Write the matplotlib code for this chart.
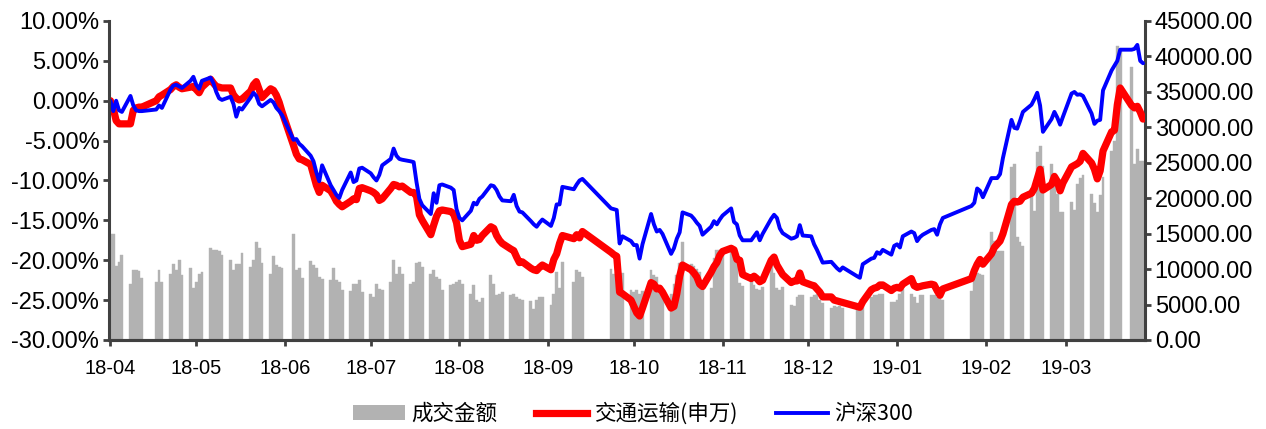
import numpy as np
import pandas as pd
import matplotlib
matplotlib.use("Agg")
import matplotlib.pyplot as plt
import matplotlib.dates as mdates
from matplotlib.ticker import FuncFormatter, MultipleLocator
from matplotlib.lines import Line2D
from matplotlib.patches import Patch

plt.rcParams['font.family'] = ['Liberation Sans', 'Noto Sans CJK SC', 'DejaVu Sans']
plt.rcParams['axes.unicode_minus'] = False

# Trading calendar (SSE), weekdays minus exchange holidays
holidays = pd.to_datetime([
    "2018-04-30", "2018-05-01", "2018-06-18", "2018-09-24",
    "2018-10-01", "2018-10-02", "2018-10-03", "2018-10-04", "2018-10-05",
    "2018-12-31", "2019-01-01",
    "2019-02-04", "2019-02-05", "2019-02-06", "2019-02-07", "2019-02-08",
    "2019-04-05",
])
dates = pd.bdate_range("2018-04-16", "2019-04-12")
dates = dates[~dates.isin(holidays)]

# Cumulative return of the transport index (SW), %
transport = [
    0.0, -1.0, -2.5, -2.9, -2.9,
    -2.9, -1.2, -0.9, -0.8, -0.8,
    0.0, 0.5, 0.7,
    1.4, 1.8, 2.0, 1.7, 1.5,
    1.7, 1.8, 1.4, 1.0, 1.7,
    2.7, 2.2, 1.8, 1.7, 1.6,
    1.6, 0.75, 0.3, 0.1, 0.2,
    1.2, 2.0, 2.4, 1.4, 0.4,
    1.5, 1.3, 0.7, -0.2, -1.4,
    -5.6, -6.7, -7.3, -7.4,
    -8.0, -9.3, -10.6, -11.5, -10.6,
    -11.3, -11.9, -12.6, -13.0, -13.3,
    -12.6, -12.3, -12.4, -11.0, -10.9,
    -11.3, -11.5, -11.8, -12.5, -12.3,
    -11.0, -10.5, -10.6, -10.8, -10.7,
    -11.5, -11.5, -12.0, -14.3, -15.0,
    -16.8, -15.6, -14.5, -13.8, -13.7,
    -13.9, -14.2, -15.3, -17.5, -18.3,
    -18.0, -16.9, -17.5, -17.4, -16.9,
    -15.8, -16.0, -16.9, -17.5, -17.9,
    -18.6, -18.8, -19.6, -20.3, -20.2,
    -21.0, -21.2, -21.3, -20.9, -20.6,
    -21.2, -19.9, -19.2, -17.9, -16.9,
    -17.3, -16.8, -17.2, -16.4,
    -19.0, -19.3, -19.5, -24.0, -24.2,
    -25.0, -25.8, -26.6, -27.0, -26.0,
    -22.8, -23.0, -23.6, -23.5, -24.0,
    -26.0, -25.8, -24.2, -22.0, -20.6,
    -21.2, -21.6, -22.1, -23.0, -23.3,
    -21.5, -20.8, -20.3, -19.4, -18.9,
    -18.5, -18.7, -19.9, -20.0, -21.8,
    -22.3, -22.0, -22.3, -22.7, -22.5,
    -20.0, -19.6, -20.6, -21.2, -21.8,
    -22.8, -22.6, -22.6, -21.6, -22.7,
    -23.1, -23.2, -23.6, -24.0, -24.6,
    -24.6, -25.0, -25.1, -25.2, -25.3,
    -25.8, -25.9, -25.2,
    -23.7, -23.5, -23.4, -23.1, -23.1,
    -23.8, -23.5, -23.4, -23.5, -23.0,
    -22.3, -23.2, -23.4, -23.3, -23.2,
    -23.0, -23.1, -23.8, -24.4, -23.6,
    -22.3, -21.3, -20.5, -19.9, -20.5,
    -19.2, -18.4, -18.0, -17.6, -16.7,
    -13.0, -12.6, -12.7, -12.6, -12.1,
    -11.6, -11.0, -9.8, -8.6, -11.2,
    -10.5, -9.5, -10.1, -11.3, -10.3,
    -8.3, -8.1, -7.9, -7.6, -6.6,
    -7.8, -8.6, -9.8, -8.8, -6.3,
    -3.9, -3.7, -0.5, 1.6,
    -0.6, -0.9, -0.7, -1.4, -2.3,
]

# Cumulative return of CSI 300, %
csi300 = [
    0.0, -1.3, 0.0, -1.2, -1.4,
    0.6, -0.6, -1.2, -1.3, -1.3,
    -1.1, -0.6, -0.9,
    1.4, 1.9, 2.0, 1.8, 1.6,
    2.5, 3.0, 2.0, 1.5, 2.5,
    2.9, 2.2, 1.1, 0.3, 0.1,
    0.5, -0.4, -2.0, -0.9, -1.1,
    0.4, 1.0, 0.6, -0.4, -0.7,
    0.1, -0.2, -0.9, -1.3, -1.8,
    -4.9, -4.8, -5.4, -5.7,
    -6.9, -7.6, -9.0, -10.1, -8.1,
    -10.6, -11.2, -11.8, -12.2, -11.2,
    -9.0, -10.2, -10.0, -8.5, -8.4,
    -9.1, -9.6, -10.0, -9.3, -8.1,
    -7.3, -6.0, -6.9, -7.3, -7.4,
    -7.6, -7.7, -10.2, -12.3, -13.1,
    -14.2, -11.6, -12.8, -10.6, -10.5,
    -10.9, -11.2, -13.6, -14.7, -15.0,
    -13.8, -12.8, -13.0, -12.3, -12.0,
    -10.6, -10.7, -11.2, -12.0, -12.5,
    -12.6, -11.8, -13.2, -13.9, -14.0,
    -15.1, -15.5, -15.8, -15.3, -14.9,
    -15.7, -14.7, -13.0, -13.0, -10.8,
    -11.1, -10.5, -10.0, -9.8,
    -13.5, -13.6, -13.7, -17.9, -17.0,
    -17.6, -18.1, -18.1, -19.8, -18.0,
    -14.2, -15.5, -16.4, -16.2, -16.7,
    -19.2, -18.5, -17.3, -16.5, -14.0,
    -14.4, -14.8, -15.3, -15.7, -16.8,
    -15.8, -15.1, -15.5, -14.9, -14.4,
    -13.5, -15.2, -15.5, -16.9, -17.5,
    -17.5, -17.0, -16.5, -17.5, -16.7,
    -14.8, -14.3, -14.7, -16.0, -16.6,
    -17.3, -17.2, -17.0, -15.6, -16.9,
    -17.0, -18.0, -18.7, -19.5, -20.3,
    -20.2, -20.6, -21.0, -21.3, -20.9,
    -22.0, -22.2, -20.5,
    -19.8, -19.7, -19.0, -19.2, -18.7,
    -19.3, -18.2, -18.0, -18.4, -17.0,
    -16.4, -16.6, -17.6, -17.1, -16.8,
    -16.2, -16.1, -16.8, -15.5, -14.7,
    -13.2, -12.8, -11.0, -11.3, -12.1,
    -9.7, -9.7, -9.7, -9.2, -7.2,
    -2.4, -3.4, -3.5, -2.5, -1.4,
    -0.5, 0.2, 1.0, -0.6, -3.9,
    -2.3, -1.4, -2.1, -3.0, -2.0,
    0.9, 1.1, 0.75, 0.8, 0.6,
    -1.6, -2.9, -2.5, -2.4, 1.3,
    3.8, 4.4, 5.0, 6.4,
    6.4, 6.5, 7.0, 5.0, 4.7,
]

# Turnover of the transport index (right axis)
turnover = [
    15000, 14900, 10500, 11000, 12000,
    7900, 9900, 9900, 9800, 8800,
    8200, 9900, 8200,
    9300, 10700, 9900, 11300, 9100,
    10200, 7300, 8200, 9300, 9600,
    13000, 12700, 12700, 12600, 12000,
    11300, 9900, 10700, 10700, 12200,
    10300, 11300, 13800, 13000, 10800,
    9300, 11900, 10600, 10300, 10200,
    15000, 9900, 10200, 8800,
    11100, 10600, 10200, 8900, 8600,
    8500, 10200, 8500, 8200, 7100,
    6900, 7900, 7900, 8500, 6800,
    6500, 6000, 7900, 7200, 7100,
    8200, 11300, 9300, 10300, 9300,
    7900, 8200, 10900, 11000, 10300,
    9300, 9900, 8900, 8600, 7100,
    7700, 7900, 8200, 8500, 7900,
    6500, 7700, 5600, 5300, 5900,
    9100, 7900, 6400, 6500, 6700,
    6300, 6500, 6100, 5800, 5700,
    5500, 4400, 5600, 6000, 6100,
    5000, 6500, 9600, 7400, 11000,
    8200, 9900, 9600, 8900,
    10000, 9300, 9600, 9200, 9400,
    7100, 6800, 7100, 6500, 6900,
    9900, 9100, 8900, 6900, 6500,
    6500, 7900, 9100, 10800, 13800,
    10700, 10500, 10000, 9600, 7400,
    7400, 11600, 12700, 12700, 12200,
    12700, 12200, 11500, 8000, 7600,
    8500, 7700, 7200, 7000, 7500,
    11000, 9500, 7400, 7000, 7500,
    5000, 4800, 6100, 6400, 6400,
    6100, 6300, 6500, 5600, 5200,
    4500, 4800, 4600, 4800, 4500,
    4300, 4500, 4800,
    6100, 6300, 6300, 6500, 6500,
    5300, 5400, 5600, 6500, 7200,
    6500, 6000, 5200, 6300, 6300,
    6300, 6300, 6100, 5800, 5600,
    6900, 9800, 9500, 9300, 9200,
    15300, 14000, 12600, 12600, 12600,
    24400, 24800, 14500, 13800, 13300,
    20500, 18200, 26500, 27400, 24500,
    24800, 23500, 20600, 18100, 18000,
    19400, 18300, 22000, 22800, 23300,
    20600, 19300, 18100, 20400, 23000,
    26700, 28000, 41500, 41000,
    38500, 24800, 27000, 25300, 25300,
]

# Monthly ticks, anchored on the first trading date of the series
month_ticks = pd.date_range("2018-04-01", "2019-03-01", freq="MS") + pd.Timedelta(days=15)

spine_color = "#404040"
bar_color = "#B2B2B2"

fig = plt.figure(figsize=(12.66, 4.29), dpi=100)
ax = fig.add_axes([0.0861, 0.2075, 0.8183, 0.7436])
ax2 = ax.twinx()
ax.set_zorder(ax2.get_zorder() + 1)
ax.patch.set_visible(False)

ax2.bar(dates, turnover, width=1.0, color=bar_color, edgecolor=bar_color,
        linewidth=0.3, align="center")
ax.plot(dates, np.array(transport) / 100, color="#FF0000", lw=5.2,
        solid_joinstyle="round", solid_capstyle="round")
ax.plot(dates, np.array(csi300) / 100, color="#0000FF", lw=2.8,
        solid_joinstyle="round", solid_capstyle="round")

ax.set_xlim(pd.Timestamp("2018-04-15 12:00"), pd.Timestamp("2019-04-12 16:00"))
ax.set_ylim(-0.30, 0.10)
ax2.set_ylim(0, 45000)
ax.yaxis.set_major_locator(MultipleLocator(0.05))
ax2.yaxis.set_major_locator(MultipleLocator(5000))
ax.yaxis.set_major_formatter(FuncFormatter(lambda v, p: f"{v * 100:.2f}%"))
ax2.yaxis.set_major_formatter(FuncFormatter(lambda v, p: f"{v:.2f}"))
ax.set_xticks(month_ticks)
ax.xaxis.set_major_formatter(mdates.DateFormatter("%y-%m"))

for a in (ax, ax2):
    for s in a.spines.values():
        s.set_color(spine_color)
        s.set_linewidth(2.2)
    a.spines["top"].set_visible(False)
    a.tick_params(colors=spine_color, width=2.0, length=4, direction="out",
                  labelsize=17, labelcolor="black")
ax.spines["right"].set_visible(False)
ax2.spines["left"].set_visible(False)
ax.tick_params(axis="x", pad=10, labelsize=14.5)
ax.tick_params(axis="y", pad=3)
ax2.tick_params(axis="y", pad=3)

handles = [
    Patch(facecolor=bar_color, edgecolor="none"),
    Line2D([], [], color="#FF0000", lw=5.2),
    Line2D([], [], color="#0000FF", lw=2.8),
]
labels = ["成交金额", "交通运输(申万)", "沪深300"]
fig.legend(handles, labels, loc="center", bbox_to_anchor=(0.5, 0.035), ncol=3,
           frameon=False, handlelength=2.4, handletextpad=0.3,
           columnspacing=1.8,
           prop={"family": ["Noto Sans CJK SC", "DejaVu Sans"], "size": 15.5})

fig.savefig("out.png", dpi=100)
